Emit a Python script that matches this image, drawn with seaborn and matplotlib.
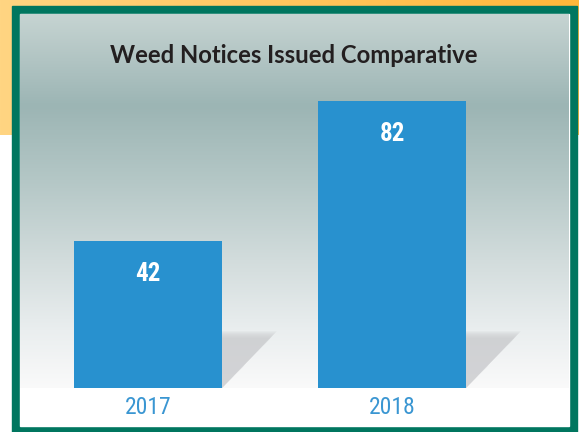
import numpy as np
import pandas as pd
import matplotlib
matplotlib.use('Agg')
import matplotlib.pyplot as plt
import seaborn as sns
from matplotlib import font_manager
from matplotlib.patches import Rectangle, Polygon
from matplotlib.colors import LinearSegmentedColormap

# data
years = ['2017', '2018']
notices = [42, 82]
title = 'Weed Notices Issued Comparative'

sns.set_style('white')

# pick a narrow face if one is around, else Roboto
fonts = font_manager.fontManager.ttflist
names = {f.name for f in fonts}
narrow, stretch = 'Roboto', 'normal'
for cand in ['Liberation Sans Narrow', 'Roboto Condensed', 'Open Sans Condensed']:
    if cand in names:
        narrow = cand
        break
else:
    if any(f.name == 'DejaVu Sans' and str(f.stretch) == 'condensed' for f in fonts):
        narrow, stretch = 'DejaVu Sans', 'condensed'
title_font = 'Lato' if 'Lato' in names else 'DejaVu Sans'

W, H = 579, 432
fig = plt.figure(figsize=(W / 100, H / 100), dpi=100)

# page background: yellow band + green frame
bg = fig.add_axes([0, 0, 1, 1])
cm_y = LinearSegmentedColormap.from_list('yel', ['#ffd582', '#ffb73a'])
bg.imshow(np.linspace(0, 1, 256)[None, :], cmap=cm_y, extent=(0, W, 135, 0),
          aspect='auto', zorder=0)
bg.add_patch(Rectangle((12, 6), 565, H - 6, color='#00765f', zorder=1))
bg.add_patch(Rectangle((20, 14), 549, 412, color='white', zorder=2))
bg.set_xlim(0, W)
bg.set_ylim(H, 0)
bg.axis('off')

# chart area
base_px, top_px = 388, 14
ax = fig.add_axes([20 / W, (H - base_px) / H, 549 / W, (base_px - top_px) / H])
ax.patch.set_alpha(0)
ax.set_zorder(2)

ytop = (base_px - top_px) * max(notices) / 287
xlim = (-0.5246, 1.725)

# vertical gradient behind the bars
stops = [(14, (198, 212, 210)), (60, (177, 196, 195)), (105, (156, 181, 180)),
         (180, (180, 199, 198)), (260, (210, 220, 220)), (330, (234, 238, 239)),
         (388, (250, 250, 250))]
rows = np.arange(top_px, base_px)
sp = [s[0] for s in stops]
grad = np.stack([np.interp(rows, sp, [s[1][c] for s in stops]) for c in range(3)], axis=-1) / 255
ax.imshow(grad[:, None, :], extent=(xlim[0], xlim[1], 0, ytop), aspect='auto', zorder=0)

df = pd.DataFrame({'year': years, 'notices': notices})
sns.barplot(data=df, x='year', y='notices', color='#2891cf', saturation=1,
            width=0.607, linewidth=0, edgecolor='none', ax=ax, zorder=3)

px_y = ytop / (base_px - top_px)
px_x = (xlim[1] - xlim[0]) / 549
for p in ax.patches:
    x1 = p.get_x() + p.get_width()
    sh, sw = 50 * px_y, 48 * px_x
    # soft drop shadow, stacked faint layers
    for k in range(7, -1, -1):
        ax.add_patch(Polygon([(x1, 0), (x1, sh + k * px_y), (x1 + sw + k * px_x, sh + k * px_y)],
                             closed=True, color='#c9cacd', alpha=0.16, lw=0, zorder=1))
    ax.annotate(f'{int(p.get_height())}', (p.get_x() + p.get_width() / 2, p.get_height()),
                xytext=(0, -40), textcoords='offset pixels', ha='center', va='baseline',
                color='white', fontsize=18, fontweight='bold', family=narrow,
                fontstretch=stretch, zorder=4)

ax.set_xlim(*xlim)
ax.set_ylim(0, ytop)
ax.set_xlabel('')
ax.set_ylabel('')
ax.set_yticks([])
sns.despine(ax=ax, left=True, bottom=True)
ax.tick_params(axis='x', length=0, pad=6, labelsize=17, labelcolor='#3a96d2')
for t in ax.get_xticklabels():
    t.set_family(narrow)
    t.set_stretch(stretch)

fig.text(294 / W, 1 - 63.3 / H, title, ha='center', va='baseline',
         fontsize=17.2, fontweight='bold', color='#231f20', family=title_font)

fig.savefig('out.png', dpi=100)
